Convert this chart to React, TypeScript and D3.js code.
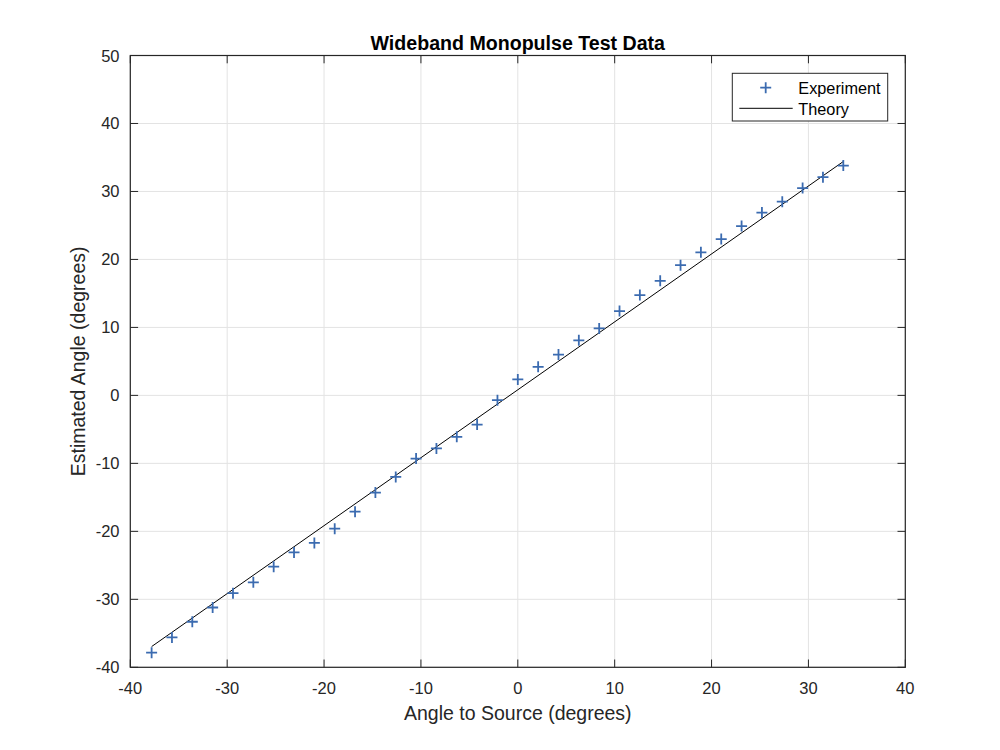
import React from "react";
import * as d3 from "d3";

const angleToSource = [-37.8, -35.7, -33.6, -31.5, -29.4, -27.3, -25.2, -23.1, -21.0, -18.9, -16.8, -14.7, -12.6, -10.5, -8.4, -6.3, -4.2, -2.1, 0, 2.1, 4.2, 6.3, 8.4, 10.5, 12.6, 14.7, 16.8, 18.9, 21.0, 23.1, 25.2, 27.3, 29.4, 31.5, 33.6];
const estimatedAngle = [-37.85, -35.6, -33.3, -31.2, -29.1, -27.5, -25.2, -23.1, -21.7, -19.6, -17.1, -14.3, -12.0, -9.3, -7.8, -6.1, -4.3, -0.7, 2.35, 4.2, 6.0, 8.1, 9.85, 12.4, 14.75, 16.85, 19.15, 21.05, 23.0, 24.9, 26.9, 28.5, 30.5, 32.1, 33.8];
const theoryX = [-37.8, 33.6];
const theoryY = [-36.95, 34.4];
const xTicks = [-40, -30, -20, -10, 0, 10, 20, 30, 40];
const yTicks = [-40, -30, -20, -10, 0, 10, 20, 30, 40, 50];

const TITLE = "Wideband Monopulse Test Data";
const XLABEL = "Angle to Source (degrees)";
const YLABEL = "Estimated Angle (degrees)";
const LEGEND = ["Experiment", "Theory"];

export default function App() {
  const W = 1000, H = 750;
  const L = 130.3, R = 905.3, T = 55.5, B = 667.3;
  const x = d3.scaleLinear().domain([-40, 40]).range([L, R]);
  const y = d3.scaleLinear().domain([-40, 50]).range([B, T]);
  const axisC = "#262626";
  const gridC = "#e3e3e3";
  const markC = "#3b6bb0";
  const font = "'Liberation Sans', Arial, Helvetica, sans-serif";
  const tl = 7.8;
  const line = d3.line<number>().x((d, i) => x(theoryX[i])).y((d) => y(d));
  const ms = 5.5;
  const plus = (cx: number, cy: number, k: string | number) => (
    <path key={k} d={`M${cx - ms},${cy}H${cx + ms}M${cx},${cy - ms}V${cy + ms}`} stroke={markC} strokeWidth={1.8} fill="none" />
  );

  return (
    <svg width={W} height={H} style={{ position: "absolute", left: 0, top: 0, background: "#fff" }} fontFamily={font}>
      <rect x={0} y={0} width={W} height={H} fill="#fff" />
      {/* grid */}
      {xTicks.map((t) => (
        <line key={"gx" + t} x1={x(t)} x2={x(t)} y1={T} y2={B} stroke={gridC} strokeWidth={1} />
      ))}
      {yTicks.map((t) => (
        <line key={"gy" + t} y1={y(t)} y2={y(t)} x1={L} x2={R} stroke={gridC} strokeWidth={1} />
      ))}
      {/* ticks */}
      {xTicks.map((t) => (
        <g key={"tx" + t}>
          <line x1={x(t)} x2={x(t)} y1={B} y2={B - tl} stroke={axisC} strokeWidth={1} />
          <line x1={x(t)} x2={x(t)} y1={T} y2={T + tl} stroke={axisC} strokeWidth={1} />
          <text x={x(t)} y={688} textAnchor="middle" dominantBaseline="central" fontSize={16.5} fill={axisC}>{t}</text>
        </g>
      ))}
      {yTicks.map((t) => (
        <g key={"ty" + t}>
          <line y1={y(t)} y2={y(t)} x1={L} x2={L + tl} stroke={axisC} strokeWidth={1} />
          <line y1={y(t)} y2={y(t)} x1={R} x2={R - tl} stroke={axisC} strokeWidth={1} />
          <text x={119.5} y={y(t)} textAnchor="end" dominantBaseline="central" fontSize={16.5} fill={axisC}>{t}</text>
        </g>
      ))}
      <rect x={L} y={T} width={R - L} height={B - T} fill="none" stroke={axisC} strokeWidth={1.2} />
      {/* theory */}
      <path d={line(theoryY) || ""} fill="none" stroke="#000" strokeWidth={1} />
      {/* experiment */}
      {estimatedAngle.map((v, i) => plus(x(angleToSource[i]), y(v), i))}
      {/* labels */}
      <text x={(L + R) / 2} y={43} textAnchor="middle" dominantBaseline="central" fontSize={19.6} fontWeight="bold" fill="#000">{TITLE}</text>
      <text x={(L + R) / 2} y={713} textAnchor="middle" dominantBaseline="central" fontSize={19.5} fill={axisC}>{XLABEL}</text>
      <text transform={`translate(78,${(T + B) / 2}) rotate(-90)`} textAnchor="middle" dominantBaseline="central" fontSize={19.5} fill={axisC}>{YLABEL}</text>
      {/* legend */}
      <rect x={732.3} y={73.3} width={155.4} height={47.7} fill="#fff" stroke={axisC} strokeWidth={1} />
      {plus(765.7, 87.7, "leg")}
      <line x1={739.3} x2={792.7} y1={108.3} y2={108.3} stroke="#000" strokeWidth={1} />
      <text x={798.3} y={88} dominantBaseline="central" fontSize={16.3} fill="#000">{LEGEND[0]}</text>
      <text x={798.3} y={108.5} dominantBaseline="central" fontSize={16.3} fill="#000">{LEGEND[1]}</text>
    </svg>
  );
}
